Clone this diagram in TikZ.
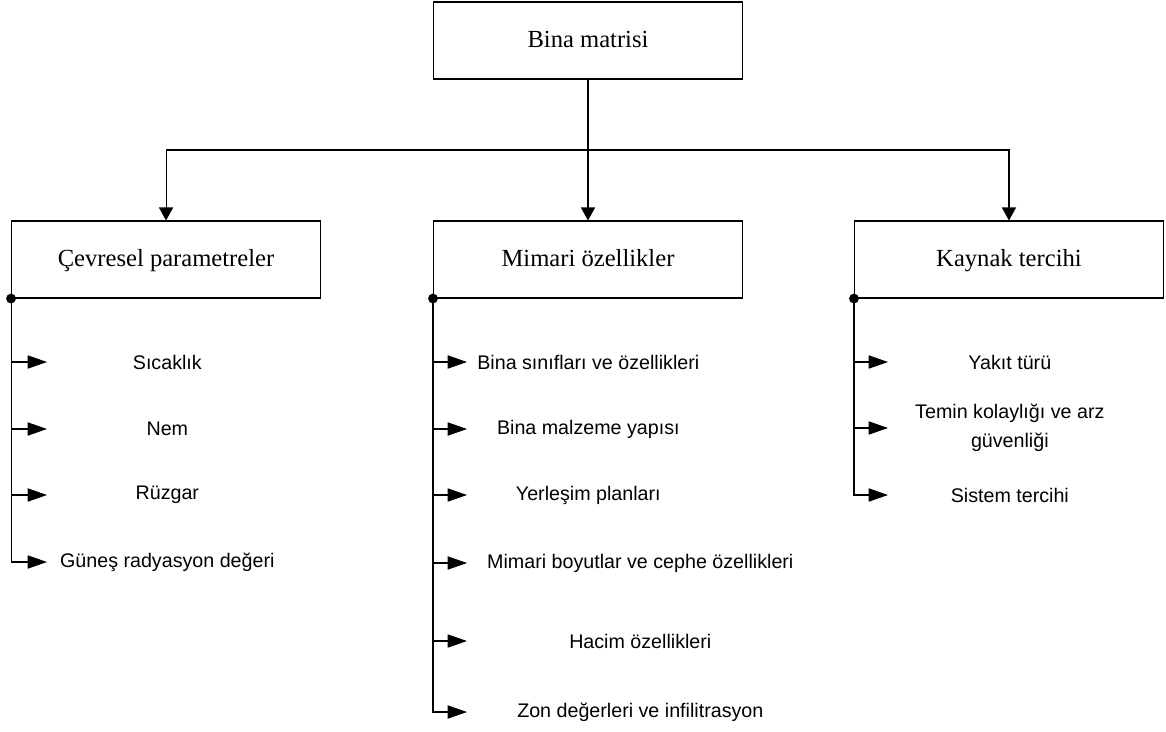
\documentclass[tikz,border=0pt]{standalone}
\usepackage{fontspec}
\setmainfont{Liberation Serif}
\newfontfamily\arialfont{Liberation Sans}
\usetikzlibrary{arrows.meta, positioning, calc}
\tikzset{
    box/.style={rectangle, draw, line width=0.6pt, minimum width=6.18cm, minimum height=1.54cm, inner sep=0pt, text height=10pt, text depth=2.6pt, text centered, font=\fontsize{14}{17}\selectfont},
    arrow/.style={line width=0.6pt, -{Triangle[length=11pt, width=7.5pt]}},
    droparrow/.style={line width=0.6pt, -{Triangle[length=7.4pt, width=8pt]}}
}

\begin{document}
\begin{tikzpicture}[
    x=0.02cm, y=-0.02cm,
    itemtext/.style={anchor=west, inner sep=0pt, align=center, font=\arialfont\fontsize{11.2}{16.4}\selectfont}
]
    \useasboundingbox (0,0) rectangle (1166,731);

    % Root
    \node (root) [box] at (588,40.5) {Bina matrisi};

    % Categories
    \node (mimari) [box, below=2.82cm of root] {Mimari özellikler};
    \node (cevre) [box, left=2.24cm of mimari] {Çevresel parametreler};
    \node (kaynak) [box, right=2.22cm of mimari] {Kaynak tercihi};

    % Branching
    \coordinate (split) at (588,150);
    \draw [line width=0.6pt] (root) -- (split);
    \draw [droparrow] (split) -- (mimari);
    \draw [droparrow] (split) -| (cevre.north);
    \draw [droparrow] (split) -| (kaynak.north);

    % Environmental parameters
    \node (sicak) [itemtext, minimum width=4.8cm] at (47,362) {Sıcaklık};
    \node (nem) [itemtext, minimum width=4.8cm] at (47,429) {Nem};
    \node (ruzgar) [itemtext, minimum width=4.8cm] at (47,495) {Rüzgar};
    \node (gunes) [itemtext, minimum width=4.8cm] at (47,562) {Güneş radyasyon değeri};

    % Architectural properties
    \node (sinif) [itemtext, minimum width=4.84cm] at (467,362) {Bina sınıfları ve özellikleri};
    \node (malzeme) [itemtext, minimum width=4.84cm] at (467,429) {Bina malzeme yapısı};
    \node (yerlesim) [itemtext, minimum width=4.84cm] at (467,495) {Yerleşim planları};
    \node (boyut) [itemtext, minimum width=6.92cm] at (467,563) {Mimari boyutlar ve cephe özellikleri};
    \node (hacim) [itemtext, minimum width=6.92cm] at (467,641) {Hacim özellikleri};
    \node (zon) [itemtext, minimum width=6.92cm] at (467,712) {Zon değerleri ve infilitrasyon};

    % Source preference
    \node (yakit) [itemtext, minimum width=4.86cm] at (888,362) {Yakıt türü};
    \node (temin) [itemtext, minimum width=4.86cm] at (888,428) {Temin kolaylığı ve arz\\güvenliği};
    \node (sistem) [itemtext, minimum width=4.86cm] at (888,495) {Sistem tercihi};

    % Item connectors
    \draw [arrow] (cevre.south west) |- (sicak.west);
    \draw [arrow] (cevre.south west) |- (nem.west);
    \draw [arrow] (cevre.south west) |- (ruzgar.west);
    \draw [arrow] (cevre.south west) |- (gunes.west);

    \draw [arrow] (mimari.south west) |- (sinif.west);
    \draw [arrow] (mimari.south west) |- (malzeme.west);
    \draw [arrow] (mimari.south west) |- (yerlesim.west);
    \draw [arrow] (mimari.south west) |- (boyut.west);
    \draw [arrow] (mimari.south west) |- (hacim.west);
    \draw [arrow] (mimari.south west) |- (zon.west);

    \draw [arrow] (kaynak.south west) |- (yakit.west);
    \draw [arrow] (kaynak.south west) |- (temin.west);
    \draw [arrow] (kaynak.south west) |- (sistem.west);

    % Junction dots
    \fill (cevre.south west) circle (2.8pt);
    \fill (mimari.south west) circle (2.8pt);
    \fill (kaynak.south west) circle (2.8pt);
\end{tikzpicture}
\end{document}
